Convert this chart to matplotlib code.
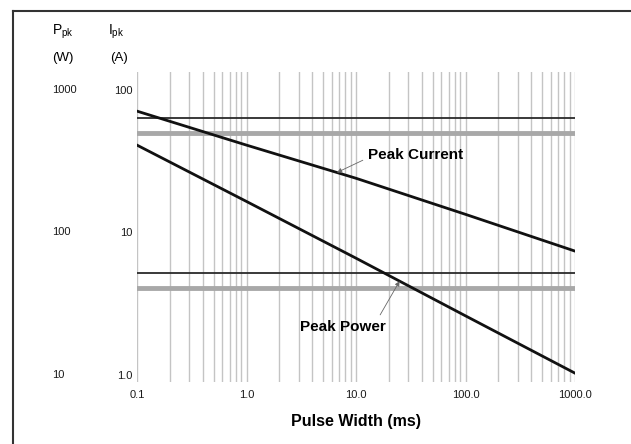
import numpy as np
import matplotlib
matplotlib.use("Agg")
import matplotlib.pyplot as plt
from matplotlib.lines import Line2D

plt.rcParams['font.family'] = ['Liberation Sans', 'DejaVu Sans']

# pulse width (ms)
pulse_ms = [0.1, 1.0, 10.0, 100.0, 1000.0]
# peak current (A) and peak power (W)
peak_current = [71, 41, 24, 13.4, 7.4]
peak_power = [410, 165, 66, 26, 10.3]

# horizontal limit lines
current_limits = [64, 50]     # A
power_limits = [52, 41]       # W

x_ticks = [0.1, 1, 10, 100, 1000]
x_ticklabels = ['0.1', '1.0', '10.0', '100.0', '1000.0']
a_ticks = [1, 10, 100]
a_ticklabels = ['1.0', '10', '100']
w_ticks = [10, 100, 1000]
w_ticklabels = ['10', '100', '1000']

fig = plt.figure(figsize=(6.31, 4.44), dpi=100)
ax = fig.add_axes([137 / 631, 1 - 382 / 444, 438 / 631, 310 / 444])
ax2 = ax.twinx()

ax.set_xscale('log')
ax.set_yscale('log')
ax2.set_yscale('log')
ax.set_xlim(0.1, 1000)
ax.set_ylim(0.893, 133.6)
ax2.set_ylim(8.93, 1336)

# vertical grid
ax.grid(True, which='both', axis='x', color='#c4c4c4', lw=1.0)
ax.set_axisbelow(True)

for s in list(ax.spines.values()) + list(ax2.spines.values()):
    s.set_visible(False)

# limit lines
ax.axhline(current_limits[0], color='#2a2a2a', lw=1.3)
ax.axhline(current_limits[1], color='#a8a8a8', lw=3.5)
ax2.axhline(power_limits[0], color='#2a2a2a', lw=1.3)
ax2.axhline(power_limits[1], color='#a8a8a8', lw=3.5)

# curves
ax.plot(pulse_ms, peak_current, color='#111111', lw=2)
ax2.plot(pulse_ms, peak_power, color='#111111', lw=2)

# ticks
ax.set_xticks(x_ticks)
ax.set_xticklabels(x_ticklabels)
ax.xaxis.set_minor_formatter(plt.NullFormatter())
ax.set_yticks(a_ticks)
ax.set_yticklabels(a_ticklabels)
ax.yaxis.set_minor_formatter(plt.NullFormatter())
ax.tick_params(which='both', length=0, labelsize=8, colors='#1a1a1a')
ax.tick_params(axis='x', pad=6)
ax.tick_params(axis='y', pad=3)
ax2.set_yticks([])
ax2.tick_params(which='both', length=0, labelright=False)

ytr = ax2.get_yaxis_transform()
for v, lab in zip(w_ticks, w_ticklabels):
    ax2.text(-0.194, v, lab, transform=ytr, ha='left', va='center',
             fontsize=8, color='#1a1a1a')

# column headers
ax.text(-0.194, 1.129, r'P$_\mathregular{pk}$', transform=ax.transAxes,
        ha='left', va='center', fontsize=10)
ax.text(-0.194, 1.045, '(W)', transform=ax.transAxes,
        ha='left', va='center', fontsize=9.5)
ax.text(-0.066, 1.129, r'I$_\mathregular{pk}$', transform=ax.transAxes,
        ha='left', va='center', fontsize=10)
ax.text(-0.062, 1.045, '(A)', transform=ax.transAxes,
        ha='left', va='center', fontsize=9.5)

ax.set_xlabel('Pulse Width (ms)', fontsize=11.5, fontweight='bold', labelpad=10)

# annotations
logx = np.log10(pulse_ms)
tc = 6.7
yc = 10 ** np.interp(np.log10(tc), logx, np.log10(peak_current))
ax.annotate('Peak Current', xy=(tc, yc), xytext=(12.9, 35),
            fontsize=11, fontweight='bold', ha='left', va='center',
            arrowprops=dict(arrowstyle='-|>', color='#666666', lw=0.6,
                            mutation_scale=7, shrinkA=2, shrinkB=0,
                            relpos=(0, 0.3)))
tp = 25
yp = 10 ** np.interp(np.log10(tp), logx, np.log10(peak_power))
ax2.annotate('Peak Power', xy=(tp, yp), xytext=(3.08, 21.7),
             fontsize=11, fontweight='bold', ha='left', va='center',
             arrowprops=dict(arrowstyle='-|>', color='#666666', lw=0.6,
                             mutation_scale=7, shrinkA=2, shrinkB=0,
                             relpos=(0.9, 1.0)))

# outer frame (top and left edges)
fig.add_artist(Line2D([13 / 631, 1], [1 - 11 / 444, 1 - 11 / 444],
                      transform=fig.transFigure, color='#333333', lw=1.5))
fig.add_artist(Line2D([13 / 631, 13 / 631], [0, 1 - 11 / 444],
                      transform=fig.transFigure, color='#333333', lw=1.5))

fig.savefig('out.png', dpi=100)
